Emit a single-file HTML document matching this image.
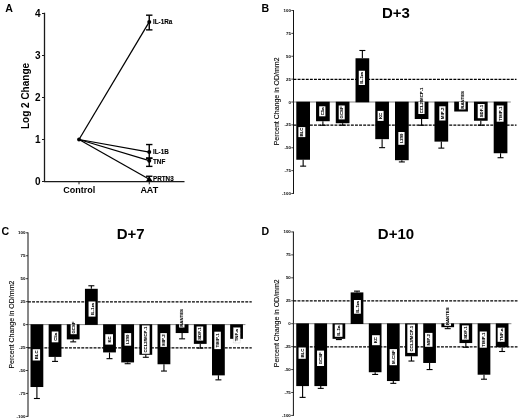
<!DOCTYPE html>
<html lang="en"><head><meta charset="utf-8"><title>Figure</title>
<style>
html,body{margin:0;padding:0;background:#fff;}
body{width:520px;height:420px;overflow:hidden;}
svg{display:block;font-family:"Liberation Sans", Arial, sans-serif;will-change:transform;}
</style></head><body>
<svg width="520" height="420" viewBox="0 0 520 420">
<rect x="0" y="0" width="520" height="420" fill="#ffffff"/>
<text x="5.20" y="11.60" font-size="10.6" font-weight="bold" text-anchor="start" fill="#000" >A</text>
<line x1="44.50" y1="12.70" x2="44.50" y2="182.00" stroke="#1a1a1a" stroke-width="1.3" />
<line x1="44.00" y1="181.70" x2="184.50" y2="181.70" stroke="#1a1a1a" stroke-width="1.3" />
<line x1="42.00" y1="181.50" x2="44.50" y2="181.50" stroke="#1a1a1a" stroke-width="1" />
<text x="40.50" y="185.10" font-size="10" font-weight="bold" text-anchor="end" fill="#000" >0</text>
<line x1="42.00" y1="139.50" x2="44.50" y2="139.50" stroke="#1a1a1a" stroke-width="1" />
<text x="40.50" y="143.10" font-size="10" font-weight="bold" text-anchor="end" fill="#000" >1</text>
<line x1="42.00" y1="97.50" x2="44.50" y2="97.50" stroke="#1a1a1a" stroke-width="1" />
<text x="40.50" y="101.10" font-size="10" font-weight="bold" text-anchor="end" fill="#000" >2</text>
<line x1="42.00" y1="55.50" x2="44.50" y2="55.50" stroke="#1a1a1a" stroke-width="1" />
<text x="40.50" y="59.10" font-size="10" font-weight="bold" text-anchor="end" fill="#000" >3</text>
<line x1="42.00" y1="13.50" x2="44.50" y2="13.50" stroke="#1a1a1a" stroke-width="1" />
<text x="40.50" y="17.10" font-size="10" font-weight="bold" text-anchor="end" fill="#000" >4</text>
<text x="29.20" y="96.00" font-size="10" font-weight="bold" text-anchor="middle" fill="#000" transform="rotate(-90 29.20 96.00)" >Log 2 Change</text>
<line x1="79.00" y1="181.50" x2="79.00" y2="184.30" stroke="#1a1a1a" stroke-width="1" />
<line x1="149.25" y1="181.50" x2="149.25" y2="184.30" stroke="#1a1a1a" stroke-width="1" />
<text x="79.30" y="193.30" font-size="9" font-weight="bold" text-anchor="middle" fill="#000" >Control</text>
<text x="149.30" y="193.30" font-size="9" font-weight="bold" text-anchor="middle" fill="#000" >AAT</text>
<line x1="79.00" y1="139.50" x2="149.25" y2="21.90" stroke="#000" stroke-width="1.25" />
<line x1="149.25" y1="15.18" x2="149.25" y2="29.88" stroke="#000" stroke-width="1.4" />
<line x1="146.05" y1="15.18" x2="152.45" y2="15.18" stroke="#000" stroke-width="1.4" />
<line x1="146.05" y1="29.88" x2="152.45" y2="29.88" stroke="#000" stroke-width="1.4" />
<circle cx="149.25" cy="21.90" r="2.0" fill="#000"/>
<text x="153.00" y="24.10" font-size="6.3" font-weight="bold" text-anchor="start" fill="#000" stroke="#000" stroke-width="0.12">IL-1Ra</text>
<line x1="79.00" y1="139.50" x2="149.25" y2="152.10" stroke="#000" stroke-width="1.25" />
<line x1="149.25" y1="144.54" x2="149.25" y2="158.40" stroke="#000" stroke-width="1.4" />
<line x1="146.05" y1="144.54" x2="152.45" y2="144.54" stroke="#000" stroke-width="1.4" />
<line x1="146.05" y1="158.40" x2="152.45" y2="158.40" stroke="#000" stroke-width="1.4" />
<circle cx="149.25" cy="152.10" r="2.0" fill="#000"/>
<text x="153.00" y="153.80" font-size="6.3" font-weight="bold" text-anchor="start" fill="#000" stroke="#000" stroke-width="0.12">IL-1B</text>
<line x1="79.00" y1="139.50" x2="149.25" y2="160.71" stroke="#000" stroke-width="1.25" />
<line x1="149.25" y1="157.98" x2="149.25" y2="166.38" stroke="#000" stroke-width="1.4" />
<line x1="146.05" y1="157.98" x2="152.45" y2="157.98" stroke="#000" stroke-width="1.4" />
<line x1="146.05" y1="166.38" x2="152.45" y2="166.38" stroke="#000" stroke-width="1.4" />
<circle cx="149.25" cy="160.71" r="2.0" fill="#000"/>
<text x="153.00" y="164.01" font-size="6.3" font-weight="bold" text-anchor="start" fill="#000" stroke="#000" stroke-width="0.12">TNF</text>
<line x1="79.00" y1="139.50" x2="149.25" y2="179.19" stroke="#000" stroke-width="1.25" />
<line x1="149.25" y1="176.25" x2="149.25" y2="179.19" stroke="#000" stroke-width="1.4" />
<line x1="146.05" y1="176.25" x2="152.45" y2="176.25" stroke="#000" stroke-width="1.4" />
<path d="M145.85 181.39 L152.65 181.39 L149.25 176.19 Z" fill="#000"/>
<text x="153.00" y="181.09" font-size="6.3" font-weight="bold" text-anchor="start" fill="#000" stroke="#000" stroke-width="0.12">PRTN3</text>
<circle cx="79.0" cy="139.5" r="1.9" fill="#000"/>
<text x="261.40" y="12.20" font-size="10.6" font-weight="bold" text-anchor="start" fill="#000" >B</text>
<text x="396.00" y="18.10" font-size="15" font-weight="bold" text-anchor="middle" fill="#000" >D+3</text>
<line x1="293.50" y1="10.10" x2="293.50" y2="193.90" stroke="#111" stroke-width="1.0" />
<line x1="291.30" y1="10.50" x2="293.50" y2="10.50" stroke="#111" stroke-width="0.8" />
<text x="290.90" y="12.00" font-size="4.4" font-weight="bold" text-anchor="end" fill="#000" >100</text>
<line x1="291.30" y1="33.38" x2="293.50" y2="33.38" stroke="#111" stroke-width="0.8" />
<text x="290.90" y="34.88" font-size="4.4" font-weight="bold" text-anchor="end" fill="#000" >75</text>
<line x1="291.30" y1="56.25" x2="293.50" y2="56.25" stroke="#111" stroke-width="0.8" />
<text x="290.90" y="57.75" font-size="4.4" font-weight="bold" text-anchor="end" fill="#000" >50</text>
<line x1="291.30" y1="79.12" x2="293.50" y2="79.12" stroke="#111" stroke-width="0.8" />
<text x="290.90" y="80.62" font-size="4.4" font-weight="bold" text-anchor="end" fill="#000" >25</text>
<line x1="291.30" y1="102.00" x2="293.50" y2="102.00" stroke="#111" stroke-width="0.8" />
<text x="290.90" y="103.50" font-size="4.4" font-weight="bold" text-anchor="end" fill="#000" >0</text>
<line x1="291.30" y1="124.88" x2="293.50" y2="124.88" stroke="#111" stroke-width="0.8" />
<text x="290.90" y="126.38" font-size="4.4" font-weight="bold" text-anchor="end" fill="#000" >-25</text>
<line x1="291.30" y1="147.75" x2="293.50" y2="147.75" stroke="#111" stroke-width="0.8" />
<text x="290.90" y="149.25" font-size="4.4" font-weight="bold" text-anchor="end" fill="#000" >-50</text>
<line x1="291.30" y1="170.62" x2="293.50" y2="170.62" stroke="#111" stroke-width="0.8" />
<text x="290.90" y="172.12" font-size="4.4" font-weight="bold" text-anchor="end" fill="#000" >-75</text>
<line x1="291.30" y1="193.50" x2="293.50" y2="193.50" stroke="#111" stroke-width="0.8" />
<text x="290.90" y="195.00" font-size="4.4" font-weight="bold" text-anchor="end" fill="#000" >-100</text>
<text x="279.00" y="101.40" font-size="7.0" font-weight="normal" text-anchor="middle" fill="#000" transform="rotate(-90 279.00 101.40)" stroke="#000" stroke-width="0.1">Percent Change in OD/mm2</text>
<line x1="293.50" y1="79.33" x2="516.50" y2="79.33" stroke="#000" stroke-width="1.25" stroke-dasharray="2.9 1.2"/>
<line x1="293.50" y1="125.08" x2="516.50" y2="125.08" stroke="#000" stroke-width="1.25" stroke-dasharray="2.9 1.2"/>
<line x1="293.50" y1="102.00" x2="510.80" y2="102.00" stroke="#555" stroke-width="0.7" />
<line x1="303.15" y1="159.74" x2="303.15" y2="166.14" stroke="#000" stroke-width="1.1" />
<line x1="300.15" y1="166.14" x2="306.15" y2="166.14" stroke="#000" stroke-width="1.1" />
<rect x="296.30" y="101.70" width="13.70" height="58.04" fill="#000" />
<rect x="298.40" y="127.10" width="6.90" height="10.00" fill="#fff" />
<text x="303.40" y="132.10" font-size="4.3" font-weight="bold" text-anchor="middle" fill="#000" transform="rotate(-90 303.40 132.10)" stroke="#000" stroke-width="0.08">BLC</text>
<line x1="322.89" y1="121.22" x2="322.89" y2="125.24" stroke="#000" stroke-width="1.1" />
<line x1="319.89" y1="125.24" x2="325.89" y2="125.24" stroke="#000" stroke-width="1.1" />
<rect x="316.04" y="101.70" width="13.70" height="19.52" fill="#000" />
<rect x="319.19" y="106.30" width="6.20" height="10.00" fill="#fff" />
<text x="323.84" y="111.30" font-size="4.3" font-weight="bold" text-anchor="middle" fill="#000" transform="rotate(-90 323.84 111.30)" stroke="#000" stroke-width="0.08">C5a</text>
<line x1="342.63" y1="123.23" x2="342.63" y2="125.24" stroke="#000" stroke-width="1.1" />
<line x1="339.63" y1="125.24" x2="345.63" y2="125.24" stroke="#000" stroke-width="1.1" />
<rect x="335.78" y="101.70" width="13.70" height="21.53" fill="#000" />
<rect x="338.73" y="105.50" width="6.00" height="13.90" fill="#fff" />
<text x="343.28" y="112.45" font-size="4.3" font-weight="bold" text-anchor="middle" fill="#000" transform="rotate(-90 343.28 112.45)" stroke="#000" stroke-width="0.08">GCSF</text>
<line x1="362.37" y1="58.26" x2="362.37" y2="50.49" stroke="#000" stroke-width="1.1" />
<line x1="359.37" y1="50.49" x2="365.37" y2="50.49" stroke="#000" stroke-width="1.1" />
<rect x="355.52" y="58.26" width="13.70" height="44.04" fill="#000" />
<rect x="358.77" y="70.75" width="6.20" height="14.25" fill="#fff" />
<text x="363.42" y="77.88" font-size="4.3" font-weight="bold" text-anchor="middle" fill="#000" transform="rotate(-90 363.42 77.88)" stroke="#000" stroke-width="0.08">IL-1ra</text>
<line x1="382.11" y1="139.15" x2="382.11" y2="147.66" stroke="#000" stroke-width="1.1" />
<line x1="379.11" y1="147.66" x2="385.11" y2="147.66" stroke="#000" stroke-width="1.1" />
<rect x="375.26" y="101.70" width="13.70" height="37.45" fill="#000" />
<rect x="377.61" y="110.90" width="6.00" height="10.00" fill="#fff" />
<text x="382.16" y="115.90" font-size="4.3" font-weight="bold" text-anchor="middle" fill="#000" transform="rotate(-90 382.16 115.90)" stroke="#000" stroke-width="0.08">KC</text>
<line x1="401.85" y1="160.19" x2="401.85" y2="161.93" stroke="#000" stroke-width="1.1" />
<line x1="398.85" y1="161.93" x2="404.85" y2="161.93" stroke="#000" stroke-width="1.1" />
<rect x="395.00" y="101.70" width="13.70" height="58.49" fill="#000" />
<rect x="398.35" y="132.00" width="6.20" height="12.80" fill="#fff" />
<text x="403.00" y="138.40" font-size="4.3" font-weight="bold" text-anchor="middle" fill="#000" transform="rotate(-90 403.00 138.40)" stroke="#000" stroke-width="0.08">I-309</text>
<line x1="421.59" y1="119.02" x2="421.59" y2="125.24" stroke="#000" stroke-width="1.1" />
<line x1="418.59" y1="125.24" x2="424.59" y2="125.24" stroke="#000" stroke-width="1.1" />
<rect x="414.74" y="101.70" width="13.70" height="17.32" fill="#000" />
<rect x="418.34" y="101.70" width="6.20" height="12.30" fill="#fff" />
<text x="422.99" y="113.30" font-size="4.3" font-weight="bold" text-anchor="start" fill="#000" transform="rotate(-90 422.99 113.30)" stroke="#000" stroke-width="0.08">CCL2/MCP-1</text>
<line x1="441.33" y1="141.62" x2="441.33" y2="148.12" stroke="#000" stroke-width="1.1" />
<line x1="438.33" y1="148.12" x2="444.33" y2="148.12" stroke="#000" stroke-width="1.1" />
<rect x="434.48" y="101.70" width="13.70" height="39.92" fill="#000" />
<rect x="439.28" y="106.30" width="6.20" height="14.20" fill="#fff" />
<text x="443.93" y="113.40" font-size="4.3" font-weight="bold" text-anchor="middle" fill="#000" transform="rotate(-90 443.93 113.40)" stroke="#000" stroke-width="0.08">MIP-2</text>
<rect x="454.22" y="101.70" width="13.70" height="9.82" fill="#000" />
<rect x="458.92" y="101.70" width="6.60" height="7.70" fill="#fff" />
<text x="463.77" y="108.70" font-size="4.3" font-weight="bold" text-anchor="start" fill="#000" transform="rotate(-90 463.77 108.70)" stroke="#000" stroke-width="0.08">RANTES</text>
<line x1="480.81" y1="120.76" x2="480.81" y2="125.24" stroke="#000" stroke-width="1.1" />
<line x1="477.81" y1="125.24" x2="483.81" y2="125.24" stroke="#000" stroke-width="1.1" />
<rect x="473.96" y="101.70" width="13.70" height="19.06" fill="#000" />
<rect x="477.71" y="104.00" width="6.90" height="14.20" fill="#fff" />
<text x="482.71" y="111.10" font-size="4.3" font-weight="bold" text-anchor="middle" fill="#000" transform="rotate(-90 482.71 111.10)" stroke="#000" stroke-width="0.08">SDF-1</text>
<line x1="500.55" y1="153.24" x2="500.55" y2="157.72" stroke="#000" stroke-width="1.1" />
<line x1="497.55" y1="157.72" x2="503.55" y2="157.72" stroke="#000" stroke-width="1.1" />
<rect x="493.70" y="101.70" width="13.70" height="51.54" fill="#000" />
<rect x="496.70" y="105.50" width="6.90" height="16.20" fill="#fff" />
<text x="501.70" y="113.60" font-size="4.3" font-weight="bold" text-anchor="middle" fill="#000" transform="rotate(-90 501.70 113.60)" stroke="#000" stroke-width="0.08">TIMP-1</text>
<text x="1.40" y="235.20" font-size="10.6" font-weight="bold" text-anchor="start" fill="#000" >C</text>
<text x="130.60" y="238.90" font-size="15" font-weight="bold" text-anchor="middle" fill="#000" >D+7</text>
<line x1="28.00" y1="232.40" x2="28.00" y2="416.80" stroke="#111" stroke-width="1.0" />
<line x1="25.80" y1="232.80" x2="28.00" y2="232.80" stroke="#111" stroke-width="0.8" />
<text x="25.40" y="234.30" font-size="4.4" font-weight="bold" text-anchor="end" fill="#000" >100</text>
<line x1="25.80" y1="255.75" x2="28.00" y2="255.75" stroke="#111" stroke-width="0.8" />
<text x="25.40" y="257.25" font-size="4.4" font-weight="bold" text-anchor="end" fill="#000" >75</text>
<line x1="25.80" y1="278.70" x2="28.00" y2="278.70" stroke="#111" stroke-width="0.8" />
<text x="25.40" y="280.20" font-size="4.4" font-weight="bold" text-anchor="end" fill="#000" >50</text>
<line x1="25.80" y1="301.65" x2="28.00" y2="301.65" stroke="#111" stroke-width="0.8" />
<text x="25.40" y="303.15" font-size="4.4" font-weight="bold" text-anchor="end" fill="#000" >25</text>
<line x1="25.80" y1="324.60" x2="28.00" y2="324.60" stroke="#111" stroke-width="0.8" />
<text x="25.40" y="326.10" font-size="4.4" font-weight="bold" text-anchor="end" fill="#000" >0</text>
<line x1="25.80" y1="347.55" x2="28.00" y2="347.55" stroke="#111" stroke-width="0.8" />
<text x="25.40" y="349.05" font-size="4.4" font-weight="bold" text-anchor="end" fill="#000" >-25</text>
<line x1="25.80" y1="370.50" x2="28.00" y2="370.50" stroke="#111" stroke-width="0.8" />
<text x="25.40" y="372.00" font-size="4.4" font-weight="bold" text-anchor="end" fill="#000" >-50</text>
<line x1="25.80" y1="393.45" x2="28.00" y2="393.45" stroke="#111" stroke-width="0.8" />
<text x="25.40" y="394.95" font-size="4.4" font-weight="bold" text-anchor="end" fill="#000" >-75</text>
<line x1="25.80" y1="416.40" x2="28.00" y2="416.40" stroke="#111" stroke-width="0.8" />
<text x="25.40" y="417.90" font-size="4.4" font-weight="bold" text-anchor="end" fill="#000" >-100</text>
<text x="13.60" y="324.60" font-size="7.0" font-weight="normal" text-anchor="middle" fill="#000" transform="rotate(-90 13.60 324.60)" stroke="#000" stroke-width="0.1">Percent Change in OD/mm2</text>
<line x1="28.00" y1="301.85" x2="251.75" y2="301.85" stroke="#000" stroke-width="1.25" stroke-dasharray="2.9 1.2"/>
<line x1="28.00" y1="347.75" x2="251.75" y2="347.75" stroke="#000" stroke-width="1.25" stroke-dasharray="2.9 1.2"/>
<line x1="28.00" y1="324.60" x2="245.40" y2="324.60" stroke="#555" stroke-width="0.7" />
<line x1="36.90" y1="387.02" x2="36.90" y2="398.50" stroke="#000" stroke-width="1.1" />
<line x1="33.90" y1="398.50" x2="39.90" y2="398.50" stroke="#000" stroke-width="1.1" />
<rect x="30.50" y="324.30" width="12.80" height="62.72" fill="#000" />
<rect x="32.70" y="349.20" width="7.40" height="11.30" fill="#fff" />
<text x="37.95" y="354.85" font-size="4.3" font-weight="bold" text-anchor="middle" fill="#000" transform="rotate(-90 37.95 354.85)" stroke="#000" stroke-width="0.08">BLC</text>
<line x1="55.05" y1="356.91" x2="55.05" y2="361.41" stroke="#000" stroke-width="1.1" />
<line x1="52.05" y1="361.41" x2="58.05" y2="361.41" stroke="#000" stroke-width="1.1" />
<rect x="48.65" y="324.30" width="12.80" height="32.61" fill="#000" />
<rect x="51.75" y="331.50" width="6.60" height="10.80" fill="#fff" />
<text x="56.60" y="336.90" font-size="4.3" font-weight="bold" text-anchor="middle" fill="#000" transform="rotate(-90 56.60 336.90)" stroke="#000" stroke-width="0.08">C5a</text>
<line x1="73.20" y1="339.38" x2="73.20" y2="341.86" stroke="#000" stroke-width="1.1" />
<line x1="70.20" y1="341.86" x2="76.20" y2="341.86" stroke="#000" stroke-width="1.1" />
<rect x="66.80" y="324.30" width="12.80" height="15.08" fill="#000" />
<rect x="70.65" y="324.30" width="6.10" height="9.90" fill="#fff" />
<text x="75.25" y="333.50" font-size="4.3" font-weight="bold" text-anchor="start" fill="#000" transform="rotate(-90 75.25 333.50)" stroke="#000" stroke-width="0.08">GCSF</text>
<line x1="91.35" y1="288.80" x2="91.35" y2="285.77" stroke="#000" stroke-width="1.1" />
<line x1="88.35" y1="285.77" x2="94.35" y2="285.77" stroke="#000" stroke-width="1.1" />
<rect x="84.95" y="288.80" width="12.80" height="36.10" fill="#000" />
<rect x="88.55" y="301.50" width="6.90" height="15.10" fill="#fff" />
<text x="93.55" y="309.05" font-size="4.3" font-weight="bold" text-anchor="middle" fill="#000" transform="rotate(-90 93.55 309.05)" stroke="#000" stroke-width="0.08">IL-1ra</text>
<line x1="109.50" y1="352.42" x2="109.50" y2="358.66" stroke="#000" stroke-width="1.1" />
<line x1="106.50" y1="358.66" x2="112.50" y2="358.66" stroke="#000" stroke-width="1.1" />
<rect x="103.10" y="324.30" width="12.80" height="28.12" fill="#000" />
<rect x="105.30" y="334.20" width="7.70" height="10.40" fill="#fff" />
<text x="110.70" y="339.40" font-size="4.3" font-weight="bold" text-anchor="middle" fill="#000" transform="rotate(-90 110.70 339.40)" stroke="#000" stroke-width="0.08">KC</text>
<line x1="127.65" y1="362.42" x2="127.65" y2="363.71" stroke="#000" stroke-width="1.1" />
<line x1="124.65" y1="363.71" x2="130.65" y2="363.71" stroke="#000" stroke-width="1.1" />
<rect x="121.25" y="324.30" width="12.80" height="38.12" fill="#000" />
<rect x="124.55" y="333.10" width="6.60" height="12.60" fill="#fff" />
<text x="129.40" y="339.40" font-size="4.3" font-weight="bold" text-anchor="middle" fill="#000" transform="rotate(-90 129.40 339.40)" stroke="#000" stroke-width="0.08">I-309</text>
<line x1="145.80" y1="354.80" x2="145.80" y2="357.28" stroke="#000" stroke-width="1.1" />
<line x1="142.80" y1="357.28" x2="148.80" y2="357.28" stroke="#000" stroke-width="1.1" />
<rect x="139.40" y="324.30" width="12.80" height="30.50" fill="#000" />
<rect x="141.95" y="325.40" width="7.70" height="28.40" fill="#fff" />
<text x="147.35" y="339.60" font-size="4.3" font-weight="bold" text-anchor="middle" fill="#000" transform="rotate(-90 147.35 339.60)" stroke="#000" stroke-width="0.08">CCL2/MCP-1</text>
<line x1="163.95" y1="364.26" x2="163.95" y2="371.05" stroke="#000" stroke-width="1.1" />
<line x1="160.95" y1="371.05" x2="166.95" y2="371.05" stroke="#000" stroke-width="1.1" />
<rect x="157.55" y="324.30" width="12.80" height="39.96" fill="#000" />
<rect x="160.35" y="333.10" width="6.50" height="13.80" fill="#fff" />
<text x="165.15" y="340.00" font-size="4.3" font-weight="bold" text-anchor="middle" fill="#000" transform="rotate(-90 165.15 340.00)" stroke="#000" stroke-width="0.08">MIP-2</text>
<line x1="182.10" y1="333.05" x2="182.10" y2="338.83" stroke="#000" stroke-width="1.1" />
<line x1="179.10" y1="338.83" x2="185.10" y2="338.83" stroke="#000" stroke-width="1.1" />
<rect x="175.70" y="324.30" width="12.80" height="8.75" fill="#000" />
<rect x="179.10" y="324.30" width="5.40" height="3.20" fill="#fff" />
<text x="183.35" y="326.80" font-size="4.3" font-weight="bold" text-anchor="start" fill="#000" transform="rotate(-90 183.35 326.80)" stroke="#000" stroke-width="0.08">RANTES</text>
<line x1="200.25" y1="343.88" x2="200.25" y2="348.10" stroke="#000" stroke-width="1.1" />
<line x1="197.25" y1="348.10" x2="203.25" y2="348.10" stroke="#000" stroke-width="1.1" />
<rect x="193.85" y="324.30" width="12.80" height="19.58" fill="#000" />
<rect x="196.60" y="326.50" width="6.60" height="14.10" fill="#fff" />
<text x="201.45" y="333.55" font-size="4.3" font-weight="bold" text-anchor="middle" fill="#000" transform="rotate(-90 201.45 333.55)" stroke="#000" stroke-width="0.08">SDF-1</text>
<line x1="218.40" y1="375.37" x2="218.40" y2="379.86" stroke="#000" stroke-width="1.1" />
<line x1="215.40" y1="379.86" x2="221.40" y2="379.86" stroke="#000" stroke-width="1.1" />
<rect x="212.00" y="324.30" width="12.80" height="51.07" fill="#000" />
<rect x="214.35" y="331.70" width="6.50" height="17.40" fill="#fff" />
<text x="219.15" y="340.40" font-size="4.3" font-weight="bold" text-anchor="middle" fill="#000" transform="rotate(-90 219.15 340.40)" stroke="#000" stroke-width="0.08">TIMP-1</text>
<rect x="230.15" y="324.30" width="12.80" height="14.53" fill="#000" />
<rect x="233.35" y="327.50" width="6.90" height="15.40" fill="#fff" stroke="#999" stroke-width="0.4" stroke-dasharray="0.8 0.6"/>
<text x="238.35" y="335.20" font-size="4.3" font-weight="bold" text-anchor="middle" fill="#000" transform="rotate(-90 238.35 335.20)" stroke="#000" stroke-width="0.08">TNF-a</text>
<text x="261.40" y="235.20" font-size="10.6" font-weight="bold" text-anchor="start" fill="#000" >D</text>
<text x="396.00" y="239.10" font-size="15" font-weight="bold" text-anchor="middle" fill="#000" >D+10</text>
<line x1="293.40" y1="231.55" x2="293.40" y2="415.85" stroke="#111" stroke-width="1.0" />
<line x1="291.20" y1="231.95" x2="293.40" y2="231.95" stroke="#111" stroke-width="0.8" />
<text x="290.80" y="233.45" font-size="4.4" font-weight="bold" text-anchor="end" fill="#000" >100</text>
<line x1="291.20" y1="254.89" x2="293.40" y2="254.89" stroke="#111" stroke-width="0.8" />
<text x="290.80" y="256.39" font-size="4.4" font-weight="bold" text-anchor="end" fill="#000" >75</text>
<line x1="291.20" y1="277.82" x2="293.40" y2="277.82" stroke="#111" stroke-width="0.8" />
<text x="290.80" y="279.32" font-size="4.4" font-weight="bold" text-anchor="end" fill="#000" >50</text>
<line x1="291.20" y1="300.76" x2="293.40" y2="300.76" stroke="#111" stroke-width="0.8" />
<text x="290.80" y="302.26" font-size="4.4" font-weight="bold" text-anchor="end" fill="#000" >25</text>
<line x1="291.20" y1="323.70" x2="293.40" y2="323.70" stroke="#111" stroke-width="0.8" />
<text x="290.80" y="325.20" font-size="4.4" font-weight="bold" text-anchor="end" fill="#000" >0</text>
<line x1="291.20" y1="346.64" x2="293.40" y2="346.64" stroke="#111" stroke-width="0.8" />
<text x="290.80" y="348.14" font-size="4.4" font-weight="bold" text-anchor="end" fill="#000" >-25</text>
<line x1="291.20" y1="369.57" x2="293.40" y2="369.57" stroke="#111" stroke-width="0.8" />
<text x="290.80" y="371.07" font-size="4.4" font-weight="bold" text-anchor="end" fill="#000" >-50</text>
<line x1="291.20" y1="392.51" x2="293.40" y2="392.51" stroke="#111" stroke-width="0.8" />
<text x="290.80" y="394.01" font-size="4.4" font-weight="bold" text-anchor="end" fill="#000" >-75</text>
<line x1="291.20" y1="415.45" x2="293.40" y2="415.45" stroke="#111" stroke-width="0.8" />
<text x="290.80" y="416.95" font-size="4.4" font-weight="bold" text-anchor="end" fill="#000" >-100</text>
<text x="279.00" y="323.30" font-size="7.0" font-weight="normal" text-anchor="middle" fill="#000" transform="rotate(-90 279.00 323.30)" stroke="#000" stroke-width="0.1">Percent Change in OD/mm2</text>
<line x1="293.40" y1="300.96" x2="517.50" y2="300.96" stroke="#000" stroke-width="1.25" stroke-dasharray="2.9 1.2"/>
<line x1="293.40" y1="346.84" x2="517.50" y2="346.84" stroke="#000" stroke-width="1.25" stroke-dasharray="2.9 1.2"/>
<line x1="293.40" y1="323.70" x2="511.40" y2="323.70" stroke="#555" stroke-width="0.7" />
<line x1="302.60" y1="386.09" x2="302.60" y2="397.38" stroke="#000" stroke-width="1.1" />
<line x1="299.60" y1="397.38" x2="305.60" y2="397.38" stroke="#000" stroke-width="1.1" />
<rect x="296.25" y="323.40" width="12.70" height="62.69" fill="#000" />
<rect x="298.55" y="347.50" width="7.20" height="11.30" fill="#fff" />
<text x="303.70" y="353.15" font-size="4.3" font-weight="bold" text-anchor="middle" fill="#000" transform="rotate(-90 303.70 353.15)" stroke="#000" stroke-width="0.08">BLC</text>
<line x1="320.74" y1="386.09" x2="320.74" y2="388.38" stroke="#000" stroke-width="1.1" />
<line x1="317.74" y1="388.38" x2="323.74" y2="388.38" stroke="#000" stroke-width="1.1" />
<rect x="314.39" y="323.40" width="12.70" height="62.69" fill="#000" />
<rect x="317.04" y="350.60" width="7.00" height="15.40" fill="#fff" />
<text x="322.09" y="358.30" font-size="4.3" font-weight="bold" text-anchor="middle" fill="#000" transform="rotate(-90 322.09 358.30)" stroke="#000" stroke-width="0.08">GCSF</text>
<line x1="338.88" y1="338.84" x2="338.88" y2="339.57" stroke="#000" stroke-width="1.1" />
<line x1="335.88" y1="339.57" x2="341.88" y2="339.57" stroke="#000" stroke-width="1.1" />
<rect x="332.53" y="323.40" width="12.70" height="15.44" fill="#000" />
<rect x="334.78" y="324.50" width="7.70" height="12.30" fill="#fff" />
<text x="340.18" y="330.65" font-size="4.3" font-weight="bold" text-anchor="middle" fill="#000" transform="rotate(-90 340.18 330.65)" stroke="#000" stroke-width="0.08">IL-1a</text>
<line x1="357.02" y1="292.41" x2="357.02" y2="291.13" stroke="#000" stroke-width="1.1" />
<line x1="354.02" y1="291.13" x2="360.02" y2="291.13" stroke="#000" stroke-width="1.1" />
<rect x="350.67" y="292.41" width="12.70" height="31.59" fill="#000" />
<rect x="353.97" y="300.00" width="6.90" height="13.70" fill="#fff" />
<text x="358.97" y="306.85" font-size="4.3" font-weight="bold" text-anchor="middle" fill="#000" transform="rotate(-90 358.97 306.85)" stroke="#000" stroke-width="0.08">IL-1ra</text>
<line x1="375.16" y1="372.24" x2="375.16" y2="374.44" stroke="#000" stroke-width="1.1" />
<line x1="372.16" y1="374.44" x2="378.16" y2="374.44" stroke="#000" stroke-width="1.1" />
<rect x="368.81" y="323.40" width="12.70" height="48.84" fill="#000" />
<rect x="372.06" y="335.20" width="7.70" height="10.00" fill="#fff" />
<text x="377.46" y="340.20" font-size="4.3" font-weight="bold" text-anchor="middle" fill="#000" transform="rotate(-90 377.46 340.20)" stroke="#000" stroke-width="0.08">KC</text>
<line x1="393.30" y1="381.04" x2="393.30" y2="383.34" stroke="#000" stroke-width="1.1" />
<line x1="390.30" y1="383.34" x2="396.30" y2="383.34" stroke="#000" stroke-width="1.1" />
<rect x="386.95" y="323.40" width="12.70" height="57.64" fill="#000" />
<rect x="389.60" y="349.10" width="7.40" height="16.10" fill="#fff" />
<text x="394.85" y="357.15" font-size="4.3" font-weight="bold" text-anchor="middle" fill="#000" transform="rotate(-90 394.85 357.15)" stroke="#000" stroke-width="0.08">M-CSF</text>
<line x1="411.44" y1="356.27" x2="411.44" y2="361.04" stroke="#000" stroke-width="1.1" />
<line x1="408.44" y1="361.04" x2="414.44" y2="361.04" stroke="#000" stroke-width="1.1" />
<rect x="405.09" y="323.40" width="12.70" height="32.87" fill="#000" />
<rect x="407.34" y="324.50" width="7.70" height="28.40" fill="#fff" />
<text x="412.74" y="338.70" font-size="4.3" font-weight="bold" text-anchor="middle" fill="#000" transform="rotate(-90 412.74 338.70)" stroke="#000" stroke-width="0.08">CCL2/MCP-1</text>
<line x1="429.58" y1="362.97" x2="429.58" y2="369.57" stroke="#000" stroke-width="1.1" />
<line x1="426.58" y1="369.57" x2="432.58" y2="369.57" stroke="#000" stroke-width="1.1" />
<rect x="423.23" y="323.40" width="12.70" height="39.57" fill="#000" />
<rect x="425.08" y="332.90" width="7.40" height="13.90" fill="#fff" />
<text x="430.33" y="339.85" font-size="4.3" font-weight="bold" text-anchor="middle" fill="#000" transform="rotate(-90 430.33 339.85)" stroke="#000" stroke-width="0.08">MIP-2</text>
<line x1="447.72" y1="327.19" x2="447.72" y2="328.65" stroke="#000" stroke-width="1.1" />
<line x1="444.72" y1="328.65" x2="450.72" y2="328.65" stroke="#000" stroke-width="1.1" />
<rect x="441.37" y="323.40" width="12.70" height="3.79" fill="#000" />
<rect x="444.42" y="323.40" width="6.60" height="2.40" fill="#fff" />
<text x="449.27" y="325.10" font-size="4.3" font-weight="bold" text-anchor="start" fill="#000" transform="rotate(-90 449.27 325.10)" stroke="#000" stroke-width="0.08">RANTES</text>
<line x1="465.86" y1="343.06" x2="465.86" y2="347.28" stroke="#000" stroke-width="1.1" />
<line x1="462.86" y1="347.28" x2="468.86" y2="347.28" stroke="#000" stroke-width="1.1" />
<rect x="459.51" y="323.40" width="12.70" height="19.66" fill="#000" />
<rect x="462.01" y="325.40" width="6.80" height="14.30" fill="#fff" />
<text x="466.96" y="332.55" font-size="4.3" font-weight="bold" text-anchor="middle" fill="#000" transform="rotate(-90 466.96 332.55)" stroke="#000" stroke-width="0.08">SDF-1</text>
<line x1="484.00" y1="374.71" x2="484.00" y2="379.21" stroke="#000" stroke-width="1.1" />
<line x1="481.00" y1="379.21" x2="487.00" y2="379.21" stroke="#000" stroke-width="1.1" />
<rect x="477.65" y="323.40" width="12.70" height="51.31" fill="#000" />
<rect x="479.70" y="331.50" width="7.10" height="16.20" fill="#fff" />
<text x="484.80" y="339.60" font-size="4.3" font-weight="bold" text-anchor="middle" fill="#000" transform="rotate(-90 484.80 339.60)" stroke="#000" stroke-width="0.08">TIMP-1</text>
<line x1="502.14" y1="347.19" x2="502.14" y2="351.50" stroke="#000" stroke-width="1.1" />
<line x1="499.14" y1="351.50" x2="505.14" y2="351.50" stroke="#000" stroke-width="1.1" />
<rect x="495.79" y="323.40" width="12.70" height="23.79" fill="#000" />
<rect x="497.64" y="327.70" width="7.00" height="14.10" fill="#fff" />
<text x="502.69" y="334.75" font-size="4.3" font-weight="bold" text-anchor="middle" fill="#000" transform="rotate(-90 502.69 334.75)" stroke="#000" stroke-width="0.08">TNF-a</text>
</svg>
</body></html>
